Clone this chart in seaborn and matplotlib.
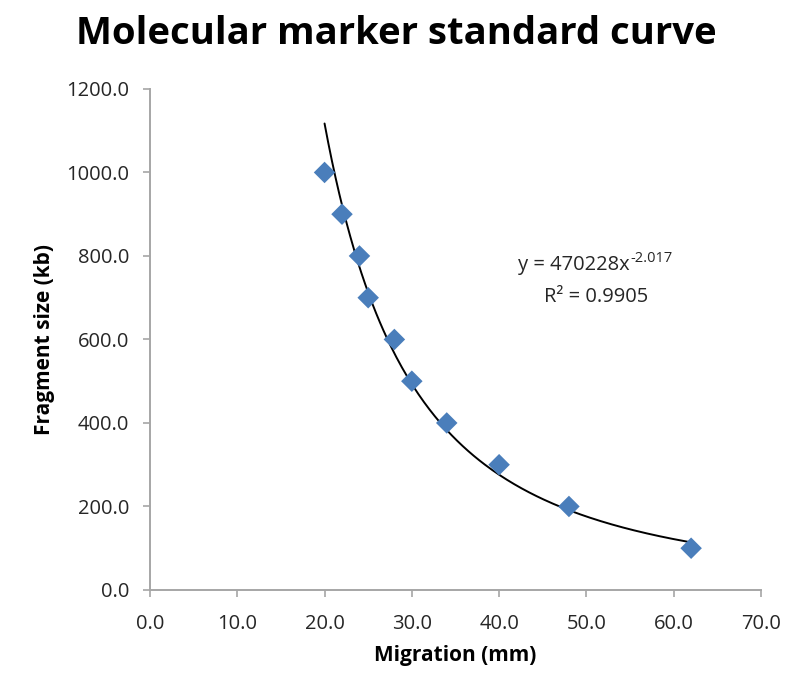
import numpy as np
import pandas as pd
import matplotlib
matplotlib.use('Agg')
import matplotlib.pyplot as plt
import seaborn as sns

# donnees du marqueur
migration = [20, 22, 24, 25, 28, 30, 34, 40, 48, 62]
fragment_size = [1000, 900, 800, 700, 600, 500, 400, 300, 200, 100]

# courbe de tendance (puissance) affichee sur le graphique
coef_a = 470228
coef_b = -2.017
r2 = 0.9905

x_ticks = [0, 10, 20, 30, 40, 50, 60, 70]
y_ticks = [0, 200, 400, 600, 800, 1000, 1200]

df = pd.DataFrame({'Migration': migration, 'Size': fragment_size})

sns.set_style('white')
plt.rcParams['font.family'] = ['Open Sans', 'DejaVu Sans']
plt.rcParams['text.color'] = 'black'
plt.rcParams['axes.labelcolor'] = 'black'

fig = plt.figure(figsize=(8.06, 6.8), dpi=100)
ax = fig.add_axes([0.1861, 0.1324, 0.758, 0.7368])

x_fit = np.linspace(min(migration), max(migration), 200)
y_fit = coef_a * x_fit ** coef_b
sns.lineplot(x=x_fit, y=y_fit, ax=ax, color='black', linewidth=1.4, zorder=2)
sns.scatterplot(data=df, x='Migration', y='Size', ax=ax, marker='D', s=120,
                color='#4a7ebb', edgecolor='none', zorder=3)

ax.set_xlim(0, 70)
ax.set_ylim(0, 1200)
ax.set_xticks(x_ticks)
ax.set_yticks(y_ticks)
ax.set_xticklabels([f'{v:.1f}' for v in x_ticks])
ax.set_yticklabels([f'{v:.1f}' for v in y_ticks])
ax.tick_params(axis='both', labelsize=14.5, length=5, width=1.2, color='#a6a6a6',
               labelcolor='#262626', direction='out', bottom=True, left=True)
ax.tick_params(axis='x', pad=12)
ax.tick_params(axis='y', pad=10)
for side in ['top', 'right']:
    ax.spines[side].set_visible(False)
for side in ['left', 'bottom']:
    ax.spines[side].set_color('#a6a6a6')
    ax.spines[side].set_linewidth(1.4)

ax.set_xlabel('Migration (mm)', fontsize=15, fontweight='bold', labelpad=8)
ax.set_ylabel('Fragment size (kb)', fontsize=15, fontweight='bold', labelpad=8)

# equation et R2
t1 = ax.text(55.0, 778, f'y = {coef_a}x', ha='right', va='center', fontsize=14.5,
             color='#262626')
ax.annotate(f'{coef_b}', xy=(1.0, 0.85), xycoords=t1, ha='left', va='center',
            fontsize=10.5, color='#262626')
ax.text(51.1, 702, f'R² = {r2}', ha='center', va='center', fontsize=14.5, color='#262626')

fig.suptitle('Molecular marker standard curve', fontsize=27.5, fontweight='bold',
             x=0.492, y=0.978, color='black')

plt.savefig('out.png', dpi=100)
